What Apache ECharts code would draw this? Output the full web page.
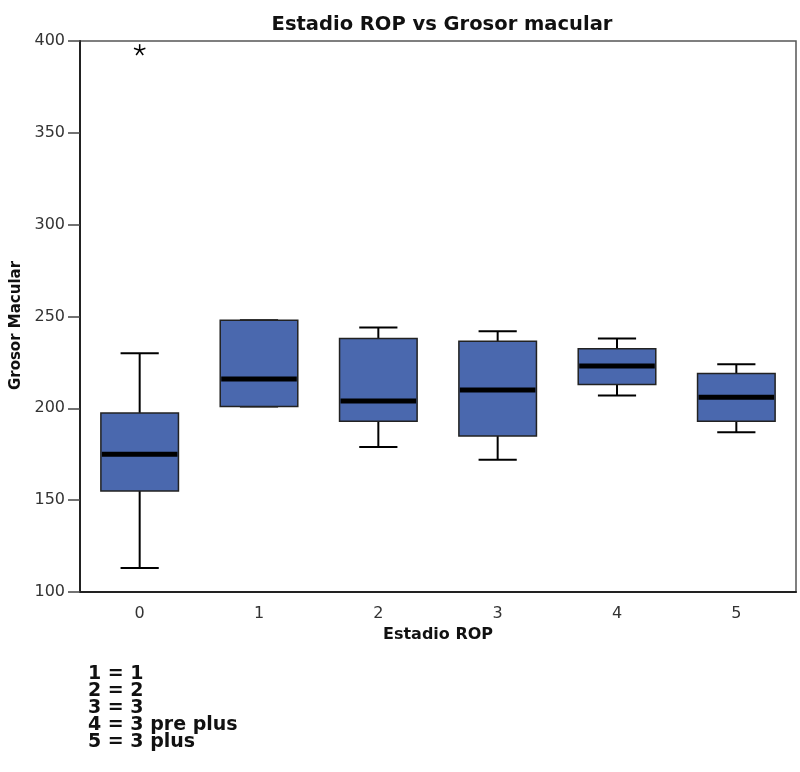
<!DOCTYPE html>
<html>
<head>
  <meta charset="UTF-8">
  <style>
    html, body { margin: 0; padding: 0; background: #fff; }
  </style>
  <script src="https://cdn.jsdelivr.net/npm/echarts@6/dist/echarts.min.js"></script>
</head>
<body>
  <div id="chart" style="width: 800px; height: 772px;"></div>
  <script>
    // values
    const categories = ['0', '1', '2', '3', '4', '5']
    const whiskerLow = [113, 201, 179, 172, 207, 187]
    const q1 = [155, 201, 193, 185, 213, 193]
    const median = [175, 216, 204, 210, 223, 206]
    const q3 = [197.5, 248, 238, 236.5, 232.5, 219]
    const whiskerHigh = [230, 248, 244, 242, 238, 224]
    const outliers = [[0, 395]]
    const footnote = ['1 = 1', '2 = 2', '3 = 3', '4 = 3 pre plus', '5 = 3 plus']

    const boxData = categories.map((c, i) =>
      [i, whiskerLow[i], q1[i], median[i], q3[i], whiskerHigh[i]])

    const chart = echarts.init(document.getElementById('chart'))

    function renderBox (params, api) {
      const x = api.value(0)
      const pLow = api.coord([x, api.value(1)])
      const pQ1 = api.coord([x, api.value(2)])
      const pMed = api.coord([x, api.value(3)])
      const pQ3 = api.coord([x, api.value(4)])
      const pHigh = api.coord([x, api.value(5)])
      const band = api.size([1, 0])[0]
      const boxW = band * 0.65
      const capW = band * 0.32
      const cx = pMed[0]
      const line = (x1, y1, x2, y2, w) => ({
        type: 'line',
        shape: { x1: x1, y1: y1, x2: x2, y2: y2 },
        style: { stroke: '#000', lineWidth: w }
      })
      return {
        type: 'group',
        children: [
          line(cx, pHigh[1], cx, pQ3[1], 2),
          line(cx, pLow[1], cx, pQ1[1], 2),
          line(cx - capW / 2, pHigh[1], cx + capW / 2, pHigh[1], 2),
          line(cx - capW / 2, pLow[1], cx + capW / 2, pLow[1], 2),
          {
            type: 'rect',
            shape: { x: cx - boxW / 2, y: pQ3[1], width: boxW, height: pQ1[1] - pQ3[1] },
            style: { fill: '#4a68ae', stroke: '#222', lineWidth: 1.5 }
          },
          line(cx - boxW / 2 + 1, pMed[1], cx + boxW / 2 - 1, pMed[1], 5)
        ]
      }
    }

    function renderStar (params, api) {
      const p = api.coord([api.value(0), api.value(1)])
      const r = 6
      const children = []
      for (let k = 0; k < 5; k++) {
        const a = (-90 + k * 72) * Math.PI / 180
        children.push({
          type: 'line',
          shape: { x1: p[0], y1: p[1], x2: p[0] + r * Math.cos(a), y2: p[1] + r * Math.sin(a) },
          style: { stroke: '#000', lineWidth: 1.5 }
        })
      }
      return { type: 'group', children: children }
    }

    const option = {
      backgroundColor: '#fff',
      animation: false,
      textStyle: { fontFamily: 'DejaVu Sans' },
      title: {
        text: 'Estadio ROP vs Grosor macular',
        left: 437,
        textAlign: 'center',
        top: 10,
        textStyle: { fontSize: 19.5, fontWeight: 'bold', color: '#111' }
      },
      grid: {
        left: 80, right: 4, top: 41, bottom: 180,
        show: true, borderColor: '#555', borderWidth: 1.5
      },
      xAxis: {
        type: 'category',
        data: categories,
        boundaryGap: true,
        name: 'Estadio ROP',
        nameLocation: 'middle',
        nameGap: 34,
        nameTextStyle: { fontSize: 16, fontWeight: 'bold', color: '#111' },
        axisLine: { lineStyle: { color: '#222', width: 2 } },
        axisTick: { alignWithLabel: true, length: 10, lineStyle: { color: '#444', width: 1.5 } },
        axisLabel: { fontSize: 16, color: '#333', margin: 14 },
        splitLine: { show: false }
      },
      yAxis: {
        type: 'value',
        min: 100,
        max: 400,
        interval: 50,
        name: 'Grosor Macular',
        nameLocation: 'middle',
        nameGap: 52,
        nameTextStyle: { fontSize: 15, fontWeight: 'bold', color: '#111', padding: [0, 18, 0, 0] },
        axisLine: { show: true, lineStyle: { color: '#222', width: 2 } },
        axisTick: { show: true, length: 12, lineStyle: { color: '#444', width: 1.5 } },
        axisLabel: { fontSize: 16, color: '#333', margin: 15 },
        splitLine: { show: false }
      },
      series: [
        {
          type: 'custom',
          renderItem: renderBox,
          data: boxData,
          encode: { x: 0, y: [1, 2, 3, 4, 5] },
          z: 3
        },
        {
          type: 'custom',
          renderItem: renderStar,
          data: outliers,
          encode: { x: 0, y: 1 },
          z: 4
        }
      ],
      graphic: [
        {
          type: 'text',
          left: 88,
          top: 665,
          style: {
            text: footnote.join('\n'),
            font: 'bold 19px "DejaVu Sans"',
            lineHeight: 16.8,
            fill: '#111'
          }
        }
      ]
    }

    chart.setOption(option)
  </script>
</body>
</html>
